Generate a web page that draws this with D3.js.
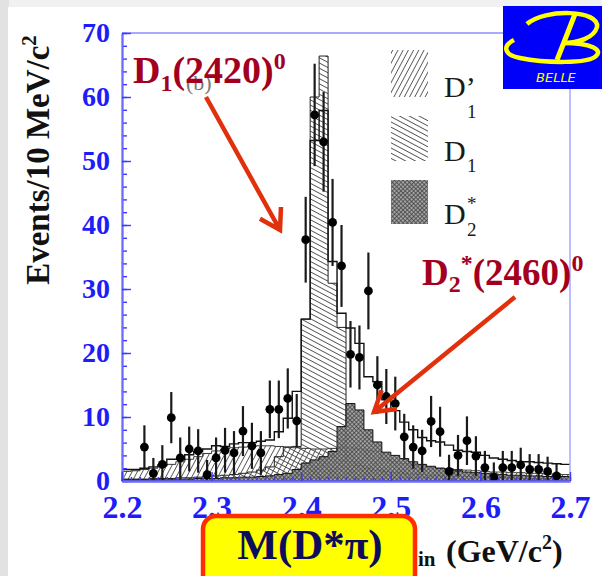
<!DOCTYPE html>
<html>
<head>
<meta charset="utf-8">
<script src="https://cdn.jsdelivr.net/npm/d3@7"></script>
<style>
  html, body { margin: 0; padding: 0; background: #e9e9e9; }
  svg { display: block; }
</style>
</head>
<body>
<div id="chart"></div>
<script>
/* M(D*pi) spectrum, Belle - data points + fit components */

// bin centres, 10 MeV bins
const massBins = [2.205, 2.215, 2.225, 2.235, 2.245, 2.255, 2.265, 2.275, 2.285, 2.295,
    2.305, 2.315, 2.325, 2.335, 2.345, 2.355, 2.365, 2.375, 2.385, 2.395,
    2.405, 2.415, 2.425, 2.435, 2.445, 2.455, 2.465, 2.475, 2.485, 2.495,
    2.505, 2.515, 2.525, 2.535, 2.545, 2.555, 2.565, 2.575, 2.585, 2.595,
    2.605, 2.615, 2.625, 2.635, 2.645, 2.655, 2.665, 2.675, 2.685, 2.695];
const binWidth = 0.01;

// total fit (open histogram)
const totalFit = [1.8, 1.8, 2.0, 2.2, 2.5, 3.4, 3.4, 4.1, 4.6, 5.0,
    5.5, 5.4, 5.8, 6.0, 6.0, 6.2, 6.4, 7.7, 9.8, 14.0,
    25.3, 53.2, 57.9, 34.3, 26.2, 23.9, 21.5, 16.3, 15.5, 12.7,
    11.0, 9.2, 8.0, 6.8, 6.3, 6.1, 5.6, 4.8, 4.6, 4.5,
    4.0, 3.6, 3.4, 3.2, 3.0, 3.0, 2.9, 2.8, 2.7, 2.6];

// D1' broad component
const d1Prime = [1.5, 1.6, 1.8, 2.0, 2.3, 2.6, 3.0, 3.4, 3.8, 4.3,
    4.7, 5.0, 5.2, 5.3, 5.4, 5.5, 5.5, 5.4, 5.3, 5.2,
    5.1, 5.0, 5.0, 5.1, 5.2, 5.2, 5.0, 4.8, 4.6, 3.4,
    3.0, 2.7, 2.5, 2.3, 2.1, 2.0, 1.9, 1.8, 1.7, 1.6,
    1.5, 1.4, 1.4, 1.3, 1.3, 1.2, 1.2, 1.1, 1.1, 1.0];

// D1(2420) narrow component
const d1Narrow = [0.3, 0.3, 0.3, 0.4, 0.4, 0.4, 0.5, 0.5, 0.6, 0.7,
    0.8, 0.9, 1.0, 1.2, 1.4, 1.7, 2.2, 3.8, 5.3, 5.4,
    25.3, 60.0, 66.4, 30.9, 24.0, 3.0, 2.4, 2.0, 1.7, 1.5,
    1.3, 1.2, 1.1, 1.0, 0.9, 0.8, 0.8, 0.7, 0.7, 0.6,
    0.6, 0.5, 0.5, 0.5, 0.4, 0.4, 0.4, 0.4, 0.3, 0.3];

// D2*(2460) component
const d2Star = [0.2, 0.2, 0.2, 0.2, 0.3, 0.3, 0.3, 0.3, 0.4, 0.4,
    0.4, 0.5, 0.5, 0.6, 0.6, 0.7, 0.8, 1.0, 1.2, 1.8,
    2.8, 3.3, 3.8, 4.6, 8.5, 12.1, 11.1, 8.0, 6.1, 4.5,
    4.0, 3.5, 3.0, 2.6, 2.3, 2.0, 1.8, 1.6, 1.4, 1.3,
    1.2, 1.1, 1.0, 0.9, 0.9, 0.8, 0.8, 0.7, 0.7, 0.7];

// data points
const dataMass = [2.225, 2.235, 2.245, 2.255, 2.265, 2.275, 2.285, 2.295, 2.305, 2.315,
    2.325, 2.335, 2.345, 2.355, 2.365, 2.375, 2.385, 2.395, 2.405, 2.415,
    2.425, 2.435, 2.445, 2.455, 2.465, 2.475, 2.485, 2.495, 2.505, 2.515,
    2.525, 2.535, 2.545, 2.555, 2.565, 2.575, 2.585, 2.595, 2.605, 2.615,
    2.625, 2.635, 2.645, 2.655, 2.665, 2.675, 2.685];
const dataCount = [5.3, 1.2, 2.6, 9.9, 3.6, 5.0, 4.7, 1.0, 3.6, 4.8,
    4.4, 7.8, 5.5, 4.4, 11.2, 11.2, 12.9, 9.4, 37.7, 57.2,
    53.0, 40.4, 33.6, 19.8, 19.3, 29.7, 15.0, 13.2, 12.1, 6.9,
    5.3, 4.7, 9.3, 7.7, 1.5, 4.0, 6.3, 3.9, 2.1, 0.6,
    2.1, 2.1, 2.5, 1.8, 1.8, 1.5, 0.8];
const dataErr = [3.4, 2.4, 3.0, 4.0, 3.2, 3.5, 3.4, 2.3, 3.2, 3.5,
    3.4, 3.9, 3.6, 3.4, 4.5, 4.5, 4.7, 4.2, 6.7, 8.0,
    7.8, 6.8, 6.4, 5.2, 5.0, 6.0, 4.5, 4.3, 4.2, 3.6,
    3.4, 3.3, 4.0, 3.9, 2.6, 3.2, 3.8, 3.1, 2.6, 2.3,
    2.6, 2.6, 2.7, 2.4, 2.4, 2.3, 2.0];

const xTicks = [2.2, 2.3, 2.4, 2.5, 2.6, 2.7];
const yTicks = [0, 10, 20, 30, 40, 50, 60, 70];

const width = 602, height = 576;
const margin = {top: 33, right: 32, bottom: 95, left: 122};

const serif = '"Liberation Serif", "Times New Roman", serif';
const axisBlue = '#1d1dfa';
const labelRed = '#a3001f';
const arrowRed = '#e0300c';

let svg = d3.select('#chart')
    .append('svg')
    .attr('width', width)
    .attr('height', height);

// white slide panel on grey
svg.append('rect').attr('x', 0).attr('y', 0).attr('width', width).attr('height', height).attr('fill', '#f1f1f1');
svg.append('rect').attr('x', 0).attr('y', 0).attr('width', 9).attr('height', height).attr('fill', '#e2e2e2');
svg.append('rect').attr('x', 8).attr('y', 7).attr('width', width - 8).attr('height', height - 7).attr('fill', '#fff');

let x = d3.scaleLinear()
    .domain([2.2, 2.7])
    .range([margin.left, width - margin.right]);

let y = d3.scaleLinear()
    .domain([0, 70])
    .range([height - margin.bottom, margin.top]);

// hatch patterns
const defs = svg.append('defs');

function hatch(id, angle, gap, color, sw) {
    let p = defs.append('pattern')
        .attr('id', id)
        .attr('patternUnits', 'userSpaceOnUse')
        .attr('width', gap).attr('height', gap)
        .attr('patternTransform', `rotate(${angle})`);
    p.append('line')
        .attr('x1', 0).attr('y1', gap / 2).attr('x2', gap).attr('y2', gap / 2)
        .attr('stroke', color).attr('stroke-width', sw);
}
hatch('hatchD1p', -62, 4.6, '#555', 0.9);   // "/" steep
hatch('hatchD1', 28, 4.6, '#444', 0.85);    // "\" shallow

let mesh = defs.append('pattern')
    .attr('id', 'meshD2')
    .attr('patternUnits', 'userSpaceOnUse')
    .attr('width', 3).attr('height', 3)
    .attr('patternTransform', 'rotate(45)');
mesh.append('rect').attr('width', 3).attr('height', 3).attr('fill', '#949494').attr('fill-opacity', 0.85);
mesh.append('line').attr('x1', 0).attr('y1', 1.5).attr('x2', 3).attr('y2', 1.5).attr('stroke', '#3c3c3c').attr('stroke-width', 0.7);
mesh.append('line').attr('x1', 1.5).attr('y1', 0).attr('x2', 1.5).attr('y2', 3).attr('stroke', '#3c3c3c').attr('stroke-width', 0.7);

// step-shaped histogram helpers
const steps = vals => {
    let pts = massBins.map((m, i) => [m - binWidth / 2, vals[i]]);
    pts.push([massBins[massBins.length - 1] + binWidth / 2, vals[vals.length - 1]]);
    return pts;
};

const histArea = d3.area()
    .x(d => x(d[0]))
    .y0(y(0))
    .y1(d => y(d[1]))
    .curve(d3.curveStepAfter);

const histLine = d3.line()
    .x(d => x(d[0]))
    .y(d => y(d[1]))
    .curve(d3.curveStepAfter);

let plot = svg.append('g');

plot.append('path')
    .attr('d', histArea(steps(d1Prime)))
    .attr('fill', 'url(#hatchD1p)')
    .attr('stroke', '#222').attr('stroke-width', 0.9);

plot.append('path')
    .attr('d', histArea(steps(d1Narrow)))
    .attr('fill', 'url(#hatchD1)')
    .attr('stroke', '#222').attr('stroke-width', 1);

plot.append('path')
    .attr('d', histArea(steps(d2Star)))
    .attr('fill', 'url(#meshD2)')
    .attr('stroke', '#111').attr('stroke-width', 1);

plot.append('path')
    .attr('d', histLine(steps(totalFit)))
    .attr('fill', 'none')
    .attr('stroke', '#111').attr('stroke-width', 1.4);

// data with errors
let pts = plot.selectAll('g.pt')
    .data(dataMass.map((m, i) => ({m: m, n: dataCount[i], e: dataErr[i]})))
    .join('g')
    .attr('class', 'pt');

pts.append('line')
    .attr('x1', d => x(d.m)).attr('x2', d => x(d.m))
    .attr('y1', d => y(Math.max(0, d.n - d.e)))
    .attr('y2', d => y(d.n + d.e))
    .attr('stroke', '#1a1a1a').attr('stroke-width', 2.2);

pts.append('circle')
    .attr('cx', d => x(d.m))
    .attr('cy', d => y(d.n))
    .attr('r', 4.4)
    .attr('fill', '#000');

// frame + axes
svg.append('line')
    .attr('x1', x(2.2)).attr('x2', x(2.7)).attr('y1', y(70)).attr('y2', y(70))
    .attr('stroke', '#8d8dff').attr('stroke-width', 1.5);
svg.append('line')
    .attr('x1', x(2.7)).attr('x2', x(2.7)).attr('y1', y(70)).attr('y2', y(0))
    .attr('stroke', '#a9a9ff').attr('stroke-width', 1.5);

const yAxis = g => g
    .attr('transform', `translate(${margin.left}, 0)`)
    .call(d3.axisLeft(y).tickValues(yTicks).tickSizeInner(-9).tickSizeOuter(0).tickPadding(12));

const yMinor = g => g
    .attr('transform', `translate(${margin.left}, 0)`)
    .call(d3.axisLeft(y).tickValues(d3.range(0, 71, 2)).tickSizeInner(-5).tickSizeOuter(0).tickFormat(''));

const xAxis = g => g
    .attr('transform', `translate(0, ${y(0)})`)
    .call(d3.axisBottom(x).tickValues(xTicks).tickFormat(d3.format('.1f')).tickSizeInner(-9).tickSizeOuter(0).tickPadding(14));

const xMinor = g => g
    .attr('transform', `translate(0, ${y(0)})`)
    .call(d3.axisBottom(x).tickValues(d3.range(2.2, 2.7001, 0.01)).tickSizeInner(-4).tickSizeOuter(0).tickFormat(''));

[[yMinor, 28], [yAxis, 28], [xMinor, 32], [xAxis, 32]].forEach(([a, fs]) => {
    let g = svg.append('g').call(a);
    g.select('.domain').attr('stroke', '#6a6aff').attr('stroke-width', 1.8);
    g.selectAll('.tick line').attr('stroke', '#3a3aff').attr('stroke-width', 1.4);
    g.selectAll('.tick text')
        .attr('fill', axisBlue)
        .attr('font-family', serif)
        .attr('font-weight', 'bold')
        .attr('font-size', fs);
});

// y title
let yt = svg.append('text')
    .attr('transform', 'translate(49, 160) rotate(-90)')
    .attr('text-anchor', 'middle')
    .attr('font-family', serif).attr('font-weight', 'bold').attr('font-size', 33)
    .attr('fill', '#111');
yt.append('tspan').text('Events/10 MeV/c');
yt.append('tspan').attr('font-size', 21).attr('dy', -13).text('2');

// x title pieces
svg.append('text')
    .attr('x', 418).attr('y', 566)
    .attr('font-family', serif).attr('font-weight', 'bold').attr('font-size', 21)
    .attr('fill', '#111').text('in');
let xt = svg.append('text')
    .attr('x', 446).attr('y', 562)
    .attr('font-family', serif).attr('font-weight', 'bold').attr('font-size', 32)
    .attr('fill', '#111');
xt.append('tspan').text('(GeV/c');
xt.append('tspan').attr('font-size', 20).attr('dy', -13).text('2');
xt.append('tspan').attr('dy', 13).text(')');

// legend
const legend = [
    {fill: 'url(#hatchD1p)', y0: 50, y1: 97},
    {fill: 'url(#hatchD1)', y0: 116, y1: 161},
    {fill: 'url(#meshD2)', y0: 180, y1: 224}
];
svg.selectAll('rect.leg')
    .data(legend)
    .join('rect')
    .attr('class', 'leg')
    .attr('x', 391).attr('width', 37)
    .attr('y', d => d.y0).attr('height', d => d.y1 - d.y0)
    .attr('fill', d => d.fill);

const legText = (xx, yy, size, txt) => svg.append('text')
    .attr('x', xx).attr('y', yy)
    .attr('font-family', serif).attr('font-size', size)
    .attr('fill', '#1a1a1a').text(txt);
legText(444, 97, 30, 'D\u2019');
legText(467, 118, 19, '1');
legText(444, 161, 30, 'D');
legText(467, 172, 19, '1');
legText(444, 224, 30, 'D');
legText(467, 210, 19, '*');
legText(467, 236, 19, '2');

// faint panel label behind the annotation
svg.append('text')
    .attr('x', 186).attr('y', 90)
    .attr('font-family', serif).attr('font-size', 22)
    .attr('fill', '#777').text('(b)');

// red annotations
let a1 = svg.append('text')
    .attr('x', 133).attr('y', 83)
    .attr('font-family', serif).attr('font-weight', 'bold').attr('font-size', 38)
    .attr('fill', labelRed);
a1.append('tspan').text('D');
a1.append('tspan').attr('font-size', 24).attr('dy', 8).text('1');
a1.append('tspan').attr('dy', -8).text('(2420)');
a1.append('tspan').attr('font-size', 24).attr('dy', -14).text('0');

let a2 = svg.append('text')
    .attr('x', 422).attr('y', 285)
    .attr('font-family', serif).attr('font-weight', 'bold').attr('font-size', 37)
    .attr('fill', labelRed);
a2.append('tspan').text('D');
a2.append('tspan').attr('font-size', 24).attr('dy', 7).text('2');
a2.append('tspan').attr('font-size', 24).attr('dy', -21).text('*');
a2.append('tspan').attr('dy', 14).text('(2460)');
a2.append('tspan').attr('font-size', 24).attr('dy', -14).text('0');

function arrow(x0, y0, x1, y1) {
    const ang = Math.atan2(y1 - y0, x1 - x0);
    const L = 23, spread = 0.55;
    const p = d3.path();
    p.moveTo(x0, y0); p.lineTo(x1, y1);
    p.moveTo(x1 - L * Math.cos(ang - spread), y1 - L * Math.sin(ang - spread));
    p.lineTo(x1, y1);
    p.lineTo(x1 - L * Math.cos(ang + spread), y1 - L * Math.sin(ang + spread));
    svg.append('path')
        .attr('d', p.toString())
        .attr('fill', 'none')
        .attr('stroke', arrowRed).attr('stroke-width', 4.5)
        .attr('stroke-linecap', 'butt').attr('stroke-linejoin', 'miter');
}
arrow(206, 97, 280, 230);
arrow(515, 297, 374, 412);

// yellow box label
svg.append('rect')
    .attr('x', 203).attr('y', 516).attr('width', 212).attr('height', 80)
    .attr('rx', 13)
    .attr('fill', '#ffff00')
    .attr('stroke', '#ff2d00').attr('stroke-width', 4.5);
svg.append('text')
    .attr('x', 310).attr('y', 559)
    .attr('text-anchor', 'middle')
    .attr('font-family', serif).attr('font-weight', 'bold').attr('font-size', 43)
    .attr('fill', '#0d0d5c')
    .text('M(D*\u03c0)');

// Belle logo
let logo = svg.append('g');
logo.append('rect').attr('x', 503).attr('y', 6).attr('width', 99).attr('height', 83).attr('fill', '#0000fa');
logo.append('path')
    .attr('d', 'M527,24 C545,8 600,10 597,27 C594,38 578,43 563,43')
    .attr('fill', 'none').attr('stroke', '#ffff00').attr('stroke-width', 4.5);
logo.append('path')
    .attr('d', 'M563,43 C592,43 603,50 596,56 C588,64 545,63 520,58 C504,55 502,46 514,40')
    .attr('fill', 'none').attr('stroke', '#ffff00').attr('stroke-width', 4.5);
logo.append('path')
    .attr('d', 'M575,14 L557,60')
    .attr('stroke', '#ffff00').attr('stroke-width', 5);
logo.append('text')
    .attr('x', 536).attr('y', 82)
    .attr('font-family', '"DejaVu Sans", sans-serif').attr('font-style', 'italic')
    .attr('font-size', 13).attr('fill', '#ffff00')
    .text('BELLE');
</script>
</body>
</html>
